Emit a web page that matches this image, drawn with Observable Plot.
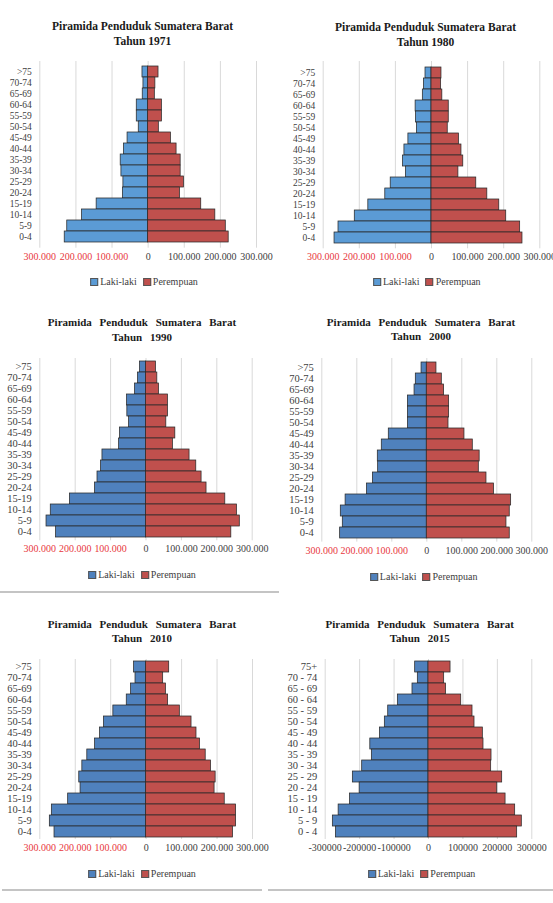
<!DOCTYPE html>
<html><head><meta charset="utf-8">
<script src="https://cdn.jsdelivr.net/npm/d3@7"></script>
<script src="https://cdn.jsdelivr.net/npm/@observablehq/plot@0.6"></script>
<style>
body{margin:0;background:#fff;}
#root{position:relative;width:553px;height:903px;overflow:hidden;font-family:"Liberation Serif","Times New Roman",serif;background:#fff;}
.title{position:absolute;font-weight:bold;font-size:11.5px;color:#1a1a1a;white-space:pre;transform:translate(-50%,-50%);line-height:1;}
.title.sp{font-size:11px;word-spacing:5px;}
.legend{position:absolute;font-size:10px;color:#404040;white-space:nowrap;transform:translate(-50%,-50%);line-height:1;display:flex;align-items:center;}
.legend .sw{display:inline-block;width:6px;height:6px;margin-right:2px;border:0.5px solid #555;}
.legend .item{display:flex;align-items:center;margin:0 3px;}
.sep{position:absolute;height:2px;background:#c4c4c4;}
</style>
</head><body><div id="root"></div>
<script>
// ---------- DATA ----------
const ages = [">75","70-74","65-69","60-64","55-59","50-54","45-49","40-44","35-39","30-34","25-29","20-24","15-19","10-14","5-9","0-4"];
const ages2015 = ["75+","70 - 74","65 - 69","60 - 64","55 - 59","50 - 54","45 - 49","40 - 44","35 - 39","30 - 34","25 - 29","20 - 24","15 - 19","10 - 14","5 - 9","0 - 4"];
const tickValues = [-300000,-200000,-100000,0,100000,200000,300000];
const tickLabelsDot = ["300.000","200.000","100.000","0","100.000","200.000","300.000"];
const tickLabelsPlain = ["-300000","-200000","-100000","0","100000","200000","300000"];
const seriesNames = ["Laki-laki","Perempuan"];
const years = ["1971","1980","1990","2000","2010","2015"];

const male1971   = [15700,13000,15000,31500,31500,26000,57000,67000,76000,74000,68500,70000,142600,183000,224000,231000];
const female1971 = [28700,20000,18500,38000,38000,29600,63000,78700,90000,90000,99000,88000,147000,186000,215000,223000];
const male1980   = [16600,21000,24000,44000,43000,40500,64000,75000,79000,71000,113000,128000,175000,212500,257600,268600];
const female1980 = [27600,26700,30000,47800,47800,45000,76000,83000,88000,74500,124000,154600,187700,207000,245600,252000];
const male1990   = [17000,22600,31000,53600,52700,48000,73400,76000,123000,127000,137000,144000,215000,269000,281000,254000];
const female1990 = [28000,32000,36700,62000,62000,57400,82800,76000,123000,142000,157000,171000,224000,257000,265000,241000];
const male2000   = [15000,31400,35000,54000,54000,54000,108600,128600,140000,139000,154000,171000,232000,245700,240000,247600];
const female2000 = [27600,42900,49500,63800,63800,62000,107600,131400,151000,148600,170500,192000,241000,237000,227600,237000];
const male2010   = [34000,30000,42500,54700,92500,119000,130000,144000,166000,180000,188700,185000,220000,266000,271700,258500];
const female2010 = [65000,48000,55700,62000,95000,128000,142000,152000,168000,183000,196000,193000,221700,253800,253800,245000];
const male2015   = [38700,31000,46500,89000,117000,126800,141000,169000,164500,192600,219700,200000,228000,261000,277800,269000];
const female2015 = [64000,45500,51000,95000,127800,133600,157800,159700,183000,182000,214000,199600,223800,251700,271000,257500];

// ---------- LAYOUT ----------
const blueLight = "#5b9bd5", blueDark = "#4f81bd", red = "#c0504d";
const FONT = "'Liberation Serif','Times New Roman',serif";
const panels = [
  {year:years[0], ages, male:male1971, female:female1971, ox:0,   pl:39.3,  pr:256,   pt:61,    pb:247.7, t1:26.7, t2:41.7, tx:142.5, ly:281.7, lx:144,   blue:blueLight, labels:tickLabelsDot, redNeg:true, spaced:false, afs:9.5},
  {year:years[1], ages, male:male1980, female:female1980, ox:276, pl:322.7, pr:539.3, pt:61,    pb:248.3, t1:28.3, t2:42.7, tx:425.5, ly:281.7, lx:426.8, blue:blueLight, labels:tickLabelsDot, redNeg:true, spaced:false, afs:9.5},
  {year:years[2], ages, male:male1990, female:female1990, ox:0,   pl:39.3,  pr:251.7, pt:357.7, pb:540,   t1:322.3,t2:336.7, tx:142,  ly:575,   lx:142,   blue:blueDark, labels:tickLabelsDot, redNeg:true, spaced:true, afs:10.5},
  {year:years[3], ages, male:male2000, female:female2000, ox:276, pl:321.3, pr:531.3, pt:357.7, pb:541.3, t1:322.3,t2:335.7, tx:421,  ly:576.7, lx:423.7, blue:blueDark, labels:tickLabelsDot, redNeg:true, spaced:true, afs:10.5},
  {year:years[4], ages, male:male2010, female:female2010, ox:0,   pl:39.3,  pr:252,   pt:659.3, pb:839.3, t1:624,  t2:638.3, tx:142,  ly:874.3, lx:142,   blue:blueDark, labels:tickLabelsDot, redNeg:true, spaced:true, afs:10.5},
  {year:years[5], ages:ages2015, male:male2015, female:female2015, ox:276, pl:324.7, pr:531.3, pt:659.3, pb:839.3, t1:624, t2:638.3, tx:419.7, ly:874.3, lx:421.5, blue:blueDark, labels:tickLabelsPlain, redNeg:false, spaced:true, afs:10.5}
];

const root = document.getElementById("root");
function addDiv(cls, html, x, y){
  const d = document.createElement("div");
  d.className = cls; d.innerHTML = html;
  d.style.left = x + "px"; d.style.top = y + "px";
  root.appendChild(d); return d;
}

panels.forEach(p => {
  const mt = 4, mb = 26, width = 277;
  const ml = p.pl - p.ox, mr = p.ox + width - p.pr;
  const height = (p.pb - p.pt) + mt + mb;
  const data = p.ages.flatMap((a,i) => [
    {age:a, sex:seriesNames[0], v:-p.male[i]},
    {age:a, sex:seriesNames[1], v:p.female[i]}
  ]);
  const idx = tickValues.map((_,i) => i);
  const chart = Plot.plot({
    width, height, marginLeft: ml, marginRight: mr, marginTop: mt, marginBottom: mb,
    x: {domain:[-300000,300000], axis:null},
    y: {domain:p.ages, padding:0, axis:null},
    color: {type:"identity"},
    style: {fontFamily:FONT, background:"transparent", overflow:"visible"},
    marks: [
      Plot.ruleX(tickValues, {stroke:"#d9d9d9", strokeWidth:1}),
      Plot.barX(data, {y:"age", x:"v", fill: d => d.sex === seriesNames[0] ? p.blue : red, stroke:"#2a2a2a", strokeWidth:0.75, inset:0}),
      Plot.text(p.ages, {y: d => d, text: d => d, frameAnchor:"left", textAnchor:"end", dx:-8, fontSize:p.afs, fontFamily:FONT, fill:"#404040"}),
      Plot.text(idx, {x: i => tickValues[i], text: i => p.labels[i], frameAnchor:"bottom", dy:11.6, fontSize:10, fontFamily:FONT,
        fill: i => (p.redNeg && tickValues[i] < 0) ? "#e8383d" : "#404040"})
    ]
  });
  chart.style.position = "absolute";
  chart.style.left = p.ox + "px";
  chart.style.top = (p.pt - mt) + "px";
  chart.style.maxWidth = "none";
  root.appendChild(chart);

  const cls = p.spaced ? "title sp" : "title";
  addDiv(cls, "Piramida Penduduk Sumatera Barat", p.tx, p.t1);
  addDiv(cls, "Tahun " + p.year, p.tx, p.t2);
  addDiv("legend",
    `<span class="item"><span class="sw" style="background:${p.blue}"></span>${seriesNames[0]}</span>` +
    `<span class="item"><span class="sw" style="background:${red}"></span>${seriesNames[1]}</span>`,
    p.lx, p.ly);
});

// separators
function sep(x,y,w){ const d=document.createElement("div"); d.className="sep"; d.style.left=x+"px"; d.style.top=(y-1)+"px"; d.style.width=w+"px"; root.appendChild(d); }
sep(0, 591.7, 279);
sep(2, 890, 260);
sep(268, 890, 285);
</script>
</body></html>
